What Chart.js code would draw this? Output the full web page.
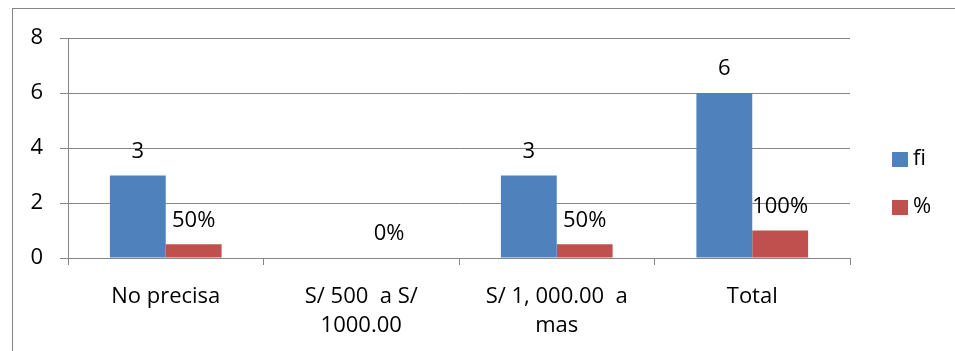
<!DOCTYPE html>
<html>
<head>
<meta charset="utf-8">
<script src="https://cdn.jsdelivr.net/npm/chart.js@4/dist/chart.umd.min.js"></script>
<style>
  html, body { margin: 0; padding: 0; background: #fff; }
</style>
</head>
<body>
<canvas id="ingresosChart" width="955" height="351"></canvas>
<script>
// DATOS
const categories = ["No precisa", ["S/ 500  a S/", "1000.00"], ["S/ 1, 000.00  a", "mas"], "Total"];
const fiValues = [3, 0, 3, 6];
const pctValues = [0.5, 0, 0.5, 1];
const yMax = 8;
const yStep = 2;

const FONT = { family: "'Open Sans', sans-serif", size: 22, lineHeight: 1.28 };
const GRID = "#868686";

// como se escribe cada etiqueta (fi oculta los ceros)
const labelFormats = [
  (v) => (v === 0 ? "" : String(v)),
  (v) => Math.round(v * 100) + "%",
];

// marco gris del grafico
const framePlugin = {
  id: "frame",
  beforeDraw(chart) {
    const { ctx } = chart;
    ctx.save();
    ctx.fillStyle = "#fff";
    ctx.fillRect(0, 0, chart.width, chart.height);
    ctx.strokeStyle = GRID;
    ctx.lineWidth = 1;
    ctx.strokeRect(12.5, 8.5, chart.width + 20, chart.height + 20);
    ctx.restore();
  },
};

// valores encima de las barras
const barLabels = {
  id: "barLabels",
  afterDatasetsDraw(chart) {
    const { ctx } = chart;
    ctx.save();
    ctx.font = `${FONT.size}px ${FONT.family}`;
    ctx.fillStyle = "#000";
    ctx.textAlign = "center";
    ctx.textBaseline = "middle";
    chart.data.datasets.forEach((ds, i) => {
      chart.getDatasetMeta(i).data.forEach((bar, j) => {
        const text = labelFormats[i](ds.data[j]);
        if (text) ctx.fillText(text, bar.x, bar.y - 24);
      });
    });
    ctx.restore();
  },
};

// leyenda a la derecha
const sideLegend = {
  id: "sideLegend",
  afterDraw(chart) {
    const { ctx, chartArea } = chart;
    const x = chartArea.right + 42;
    ctx.save();
    ctx.font = `${FONT.size}px ${FONT.family}`;
    ctx.textBaseline = "middle";
    chart.data.datasets.forEach((ds, i) => {
      const y = 152 + i * 48;
      ctx.fillStyle = ds.backgroundColor;
      ctx.fillRect(x, y, 16, 15);
      ctx.fillStyle = "#000";
      ctx.fillText(ds.label, x + 21, y + 7);
    });
    ctx.restore();
  },
};

const data = {
  labels: categories,
  datasets: [
    {
      label: "fi",
      data: fiValues,
      backgroundColor: "#4F81BD",
      categoryPercentage: 0.5714,
      barPercentage: 1,
    },
    {
      label: "%",
      data: pctValues,
      backgroundColor: "#C0504D",
      categoryPercentage: 0.5714,
      barPercentage: 1,
    },
  ],
};

const options = {
  responsive: false,
  animation: false,
  devicePixelRatio: 1,
  layout: { padding: { top: 38, right: 105, bottom: 0, left: 0 } },
  plugins: {
    legend: { display: false },
    tooltip: { enabled: false },
  },
  scales: {
    x: {
      grid: { offset: true, drawOnChartArea: false, color: GRID, tickLength: 7 },
      border: { color: GRID },
      ticks: { font: FONT, color: "#000", padding: 18, maxRotation: 0, autoSkip: false },
      afterFit: (scale) => { scale.height = 93; },
    },
    y: {
      min: 0,
      max: yMax,
      ticks: { stepSize: yStep, font: FONT, color: "#000", padding: 17 },
      grid: { color: GRID, tickLength: 8 },
      border: { color: GRID },
      afterFit: (scale) => { scale.width = 68; },
    },
  },
};

new Chart("ingresosChart", {
  type: "bar",
  data,
  options,
  plugins: [framePlugin, barLabels, sideLegend],
});
</script>
</body>
</html>
